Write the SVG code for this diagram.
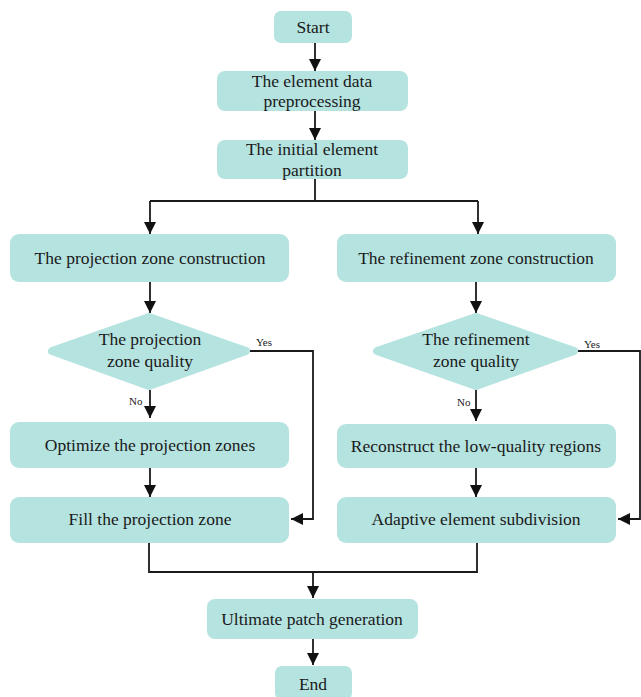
<svg xmlns="http://www.w3.org/2000/svg" width="641" height="697" viewBox="0 0 641 697">
  <defs>
    <marker id="arrow" viewBox="0 0 12 12" refX="12" refY="6" markerWidth="12" markerHeight="12" markerUnits="userSpaceOnUse" orient="auto">
      <path d="M0,0 L12,6 L0,12 Z" fill="#111"/>
    </marker>
    <style>
      .box { fill: #b5e3e0; }
      .dia { fill: #b5e3e0; stroke: #b5e3e0; stroke-width: 8; stroke-linejoin: round; }
      .lbl { font-family: "Liberation Serif", "Times New Roman", serif; font-size: 17.5px; fill: #1a1a1a; text-anchor: middle; }
      .small { font-family: "Liberation Serif", "Times New Roman", serif; font-size: 11px; fill: #1a1a1a; }
      .edge { fill: none; stroke: #1a1a1a; stroke-width: 1.8; }
      .arr { marker-end: url(#arrow); }
    </style>
  </defs>
  <rect width="641" height="697" fill="#ffffff"/>

  <g id="start">
    <rect class="box" x="274" y="11" width="78" height="32" rx="7"/>
    <text class="lbl" x="313" y="33">Start</text>
  </g>
  <g id="preprocess">
    <rect class="box" x="217" y="71" width="191" height="40" rx="8"/>
    <text class="lbl" x="312" y="87">The element data</text>
    <text class="lbl" x="312" y="107">preprocessing</text>
  </g>
  <g id="partition">
    <rect class="box" x="217" y="140" width="191" height="39" rx="8"/>
    <text class="lbl" x="312" y="155">The initial element</text>
    <text class="lbl" x="312" y="176">partition</text>
  </g>

  <g id="proj-construct">
    <rect class="box" x="10" y="234" width="279" height="48" rx="9"/>
    <text class="lbl" x="150" y="264">The projection zone construction</text>
  </g>
  <g id="proj-quality">
    <polygon class="dia" points="149,317 246,351 149,386 52,351"/>
    <text class="lbl" x="150" y="345">The projection</text>
    <text class="lbl" x="150" y="367">zone quality</text>
  </g>
  <g id="proj-optimize">
    <rect class="box" x="10" y="422" width="279" height="46" rx="9"/>
    <text class="lbl" x="150" y="451">Optimize the projection zones</text>
  </g>
  <g id="proj-fill">
    <rect class="box" x="10" y="497" width="279" height="46" rx="9"/>
    <text class="lbl" x="150" y="525">Fill the projection zone</text>
  </g>

  <g id="ref-construct">
    <rect class="box" x="337" y="234" width="279" height="48" rx="9"/>
    <text class="lbl" x="476" y="264">The refinement zone construction</text>
  </g>
  <g id="ref-quality">
    <polygon class="dia" points="476,317 574,351 476,386 377,351"/>
    <text class="lbl" x="476" y="345">The refinement</text>
    <text class="lbl" x="476" y="367">zone quality</text>
  </g>
  <g id="ref-reconstruct">
    <rect class="box" x="337" y="424" width="279" height="44" rx="9"/>
    <text class="lbl" x="476" y="452">Reconstruct the low-quality regions</text>
  </g>
  <g id="ref-subdivide">
    <rect class="box" x="337" y="497" width="279" height="46" rx="9"/>
    <text class="lbl" x="476" y="525">Adaptive element subdivision</text>
  </g>

  <g id="ultimate">
    <rect class="box" x="207" y="599" width="211" height="40" rx="8"/>
    <text class="lbl" x="312" y="625">Ultimate patch generation</text>
  </g>
  <g id="end">
    <rect class="box" x="275" y="666" width="77" height="34" rx="7"/>
    <text class="lbl" x="313" y="690">End</text>
  </g>

  <g id="connectors">
    <path class="edge arr" d="M315,43 V71"/>
    <path class="edge arr" d="M315,111 V140"/>
    <path class="edge" d="M315,179 V201 M150,201 H478"/>
    <path class="edge arr" d="M150,201 V234"/>
    <path class="edge arr" d="M478,201 V234"/>

    <path class="edge arr" d="M150,282 V313"/>
    <path class="edge arr" d="M150,390 V418"/>
    <path class="edge arr" d="M150,468 V497"/>
    <path class="edge arr" d="M250,351 H313 V519 H291"/>

    <path class="edge arr" d="M476,282 V313"/>
    <path class="edge arr" d="M476,390 V421"/>
    <path class="edge arr" d="M476,468 V497"/>
    <path class="edge arr" d="M578,351 H640 V519 H618"/>

    <path class="edge" d="M149,543 V572 H477 V543"/>
    <path class="edge arr" d="M313,572 V598"/>
    <path class="edge arr" d="M313,639 V665"/>

    <text class="small" x="256" y="346">Yes</text>
    <text class="small" x="129" y="405">No</text>
    <text class="small" x="584" y="348">Yes</text>
    <text class="small" x="457" y="406">No</text>
  </g>
</svg>
